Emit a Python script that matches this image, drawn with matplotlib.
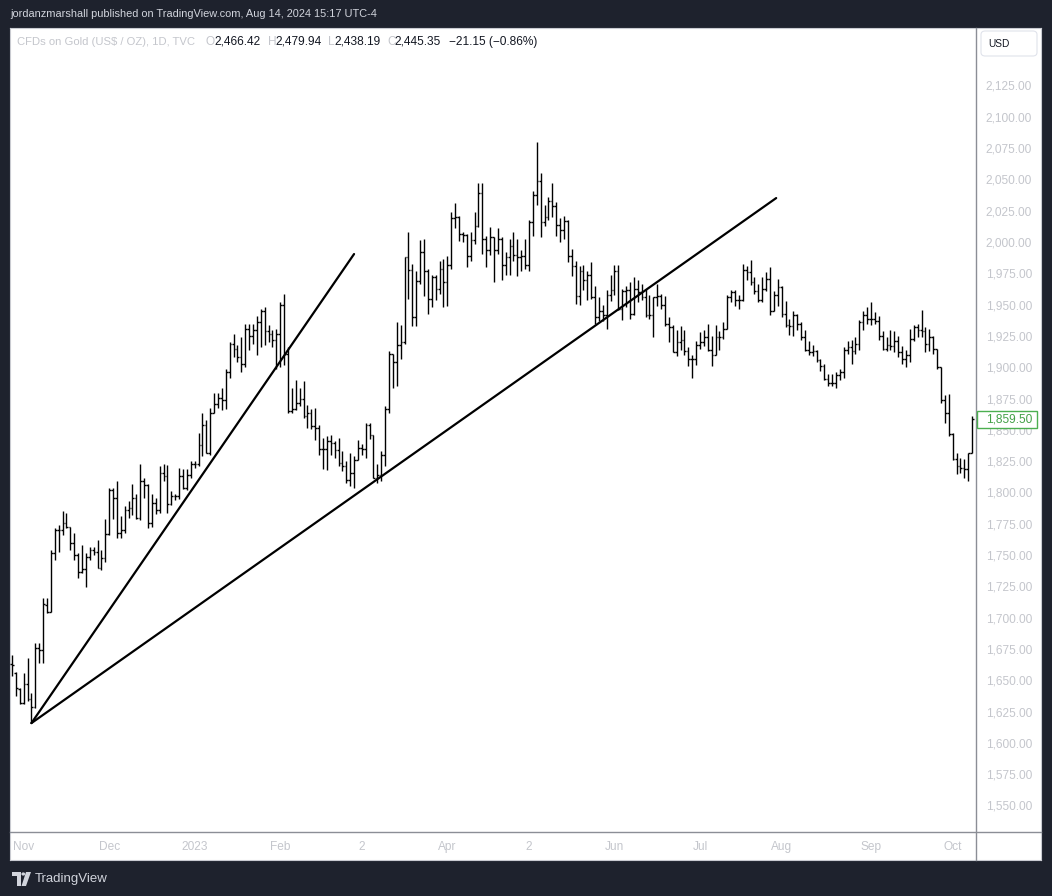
import numpy as np
import pandas as pd
import matplotlib
matplotlib.use("Agg")
import matplotlib.pyplot as plt
from matplotlib.collections import LineCollection
from matplotlib.patches import Rectangle, FancyBboxPatch, Polygon, Circle

# ---------------- data ----------------
dates = pd.bdate_range("2022-10-27", "2023-10-09")

opens = [
    1664, 1657, 1644, 1633, 1648, 1636, 1630, 1677, 1675, 1711,
    1706, 1753, 1771, 1771, 1777, 1774, 1761, 1751, 1738, 1740,
    1750, 1755, 1754, 1741, 1749, 1768, 1803, 1797, 1769, 1771,
    1787, 1789, 1797, 1781, 1810, 1807, 1777, 1793, 1787, 1817,
    1814, 1792, 1798, 1798, 1814, 1805, 1815, 1824, 1824, 1839,
    1855, 1833, 1865, 1872, 1877, 1875, 1897, 1920, 1916, 1909,
    1904, 1932, 1926, 1931, 1937, 1946, 1930, 1928, 1923, 1928,
    1951, 1912, 1866, 1868, 1873, 1876, 1862, 1865, 1854, 1853,
    1836, 1836, 1842, 1841, 1835, 1825, 1822, 1811, 1817, 1827,
    1837, 1836, 1855, 1847, 1813, 1815, 1831, 1868, 1912, 1905,
    1919, 1921, 1989, 1979, 1941, 1970, 1993, 1978, 1956, 1973,
    1964, 1980, 1969, 1983, 2020, 2021, 2008, 2007, 1990, 2003,
    2014, 2040, 2004, 1995, 2005, 1995, 2004, 1983, 1989, 1998,
    1991, 1989, 1990, 1983, 2017, 2039, 2050, 2017, 2021, 2034,
    2030, 2015, 2011, 2018, 1990, 1982, 1958, 1978, 1971, 1975,
    1957, 1941, 1946, 1943, 1959, 1963, 1978, 1948, 1962, 1963,
    1944, 1964, 1961, 1957, 1943, 1943, 1957, 1958, 1951, 1936,
    1933, 1913, 1921, 1923, 1914, 1908, 1908, 1919, 1921, 1925,
    1915, 1911, 1925, 1925, 1932, 1957, 1961, 1955, 1955, 1979,
    1977, 1969, 1962, 1955, 1964, 1972, 1946, 1959, 1965, 1944,
    1935, 1934, 1943, 1936, 1925, 1915, 1913, 1914, 1907, 1902,
    1892, 1889, 1889, 1895, 1897, 1915, 1917, 1914, 1920, 1937,
    1943, 1940, 1940, 1938, 1926, 1916, 1919, 1918, 1922, 1913,
    1908, 1911, 1924, 1933, 1931, 1930, 1920, 1925, 1916, 1901,
    1875, 1865, 1848, 1828, 1822, 1821, 1820, 1833,
]
highs = [
    1671, 1658, 1645, 1657, 1669, 1641, 1681, 1681, 1717, 1717,
    1755, 1773, 1775, 1786, 1785, 1774, 1769, 1753, 1759, 1753,
    1758, 1758, 1763, 1755, 1780, 1805, 1805, 1810, 1782, 1790,
    1794, 1808, 1800, 1824, 1813, 1808, 1800, 1797, 1822, 1824,
    1823, 1802, 1800, 1821, 1820, 1820, 1826, 1826, 1849, 1865,
    1859, 1869, 1881, 1881, 1885, 1900, 1921, 1928, 1919, 1925,
    1936, 1936, 1936, 1942, 1948, 1949, 1935, 1931, 1932, 1953,
    1960, 1917, 1885, 1891, 1885, 1890, 1871, 1868, 1869, 1855,
    1845, 1846, 1847, 1842, 1845, 1834, 1826, 1833, 1830, 1843,
    1840, 1857, 1857, 1847, 1824, 1834, 1870, 1914, 1912, 1937,
    1935, 1989, 2009, 1984, 1978, 2003, 2004, 1980, 1975, 1975,
    1986, 1988, 1990, 2025, 2032, 2022, 2009, 2008, 2009, 2025,
    2048, 2048, 2006, 2013, 2005, 2012, 2005, 1993, 2004, 2009,
    2004, 1995, 2004, 2019, 2042, 2081, 2056, 2031, 2037, 2048,
    2033, 2020, 2022, 2019, 1996, 1986, 1982, 1983, 1978, 1985,
    1966, 1957, 1951, 1963, 1975, 1983, 1983, 1964, 1966, 1969,
    1973, 1971, 1968, 1964, 1959, 1957, 1968, 1960, 1958, 1941,
    1935, 1931, 1934, 1931, 1917, 1911, 1922, 1929, 1931, 1936,
    1926, 1935, 1930, 1937, 1959, 1963, 1963, 1959, 1984, 1982,
    1987, 1973, 1968, 1973, 1977, 1981, 1962, 1972, 1966, 1954,
    1940, 1946, 1944, 1937, 1931, 1922, 1919, 1915, 1908, 1904,
    1896, 1896, 1897, 1900, 1917, 1922, 1923, 1925, 1939, 1946,
    1949, 1953, 1945, 1942, 1930, 1925, 1931, 1930, 1926, 1918,
    1915, 1932, 1935, 1936, 1947, 1933, 1932, 1926, 1916, 1901,
    1879, 1880, 1849, 1833, 1829, 1828, 1833, 1862,
]
lows = [
    1655, 1639, 1632, 1632, 1635, 1617, 1629, 1665, 1665, 1705,
    1706, 1747, 1754, 1767, 1773, 1755, 1747, 1733, 1737, 1726,
    1747, 1751, 1741, 1739, 1746, 1767, 1780, 1765, 1765, 1769,
    1781, 1783, 1780, 1779, 1797, 1773, 1774, 1784, 1785, 1810,
    1785, 1791, 1795, 1796, 1804, 1803, 1813, 1821, 1822, 1830,
    1833, 1831, 1865, 1869, 1867, 1868, 1893, 1909, 1905, 1897,
    1901, 1915, 1920, 1911, 1917, 1919, 1921, 1917, 1900, 1901,
    1903, 1865, 1865, 1867, 1870, 1861, 1853, 1852, 1843, 1831,
    1820, 1819, 1831, 1829, 1822, 1818, 1809, 1806, 1805, 1827,
    1831, 1829, 1844, 1813, 1809, 1810, 1822, 1865, 1885, 1886,
    1908, 1920, 1956, 1934, 1934, 1968, 1958, 1944, 1949, 1955,
    1960, 1949, 1950, 1980, 2012, 2002, 2001, 1981, 1986, 2000,
    2013, 1992, 1981, 1991, 1969, 1992, 1971, 1975, 1975, 1986,
    1974, 1978, 1980, 1978, 2006, 2031, 2005, 2014, 2019, 2021,
    2006, 2001, 2004, 1985, 1974, 1952, 1951, 1963, 1955, 1956,
    1936, 1938, 1938, 1932, 1954, 1959, 1947, 1939, 1949, 1940,
    1943, 1953, 1955, 1941, 1940, 1925, 1950, 1948, 1934, 1921,
    1913, 1910, 1915, 1911, 1902, 1893, 1903, 1916, 1918, 1914,
    1902, 1911, 1915, 1924, 1932, 1953, 1950, 1948, 1954, 1971,
    1967, 1960, 1953, 1953, 1962, 1943, 1946, 1950, 1941, 1933,
    1927, 1926, 1931, 1923, 1914, 1911, 1910, 1905, 1898, 1891,
    1886, 1886, 1885, 1891, 1893, 1912, 1904, 1912, 1915, 1931,
    1936, 1935, 1936, 1923, 1915, 1914, 1915, 1913, 1909, 1904,
    1901, 1905, 1922, 1925, 1925, 1913, 1914, 1912, 1900, 1873,
    1857, 1846, 1827, 1816, 1817, 1813, 1810, 1833,
]
closes = [
    1663, 1645, 1633, 1648, 1636, 1630, 1677, 1675, 1712, 1706,
    1753, 1771, 1771, 1777, 1774, 1761, 1751, 1738, 1740, 1750,
    1755, 1754, 1741, 1749, 1768, 1803, 1797, 1769, 1771, 1787,
    1789, 1797, 1781, 1810, 1807, 1777, 1793, 1787, 1817, 1814,
    1792, 1798, 1798, 1814, 1805, 1815, 1824, 1824, 1839, 1855,
    1833, 1865, 1872, 1877, 1875, 1897, 1920, 1916, 1909, 1904,
    1932, 1926, 1931, 1937, 1946, 1930, 1928, 1923, 1928, 1951,
    1912, 1866, 1868, 1873, 1876, 1862, 1865, 1854, 1853, 1836,
    1836, 1842, 1841, 1835, 1825, 1822, 1811, 1817, 1827, 1837,
    1836, 1855, 1847, 1813, 1815, 1831, 1868, 1912, 1905, 1919,
    1921, 1989, 1979, 1941, 1970, 1993, 1978, 1956, 1973, 1964,
    1980, 1969, 1983, 2020, 2021, 2008, 2007, 1990, 2003, 2014,
    2040, 2004, 1995, 2005, 1995, 2004, 1983, 1989, 1998, 1991,
    1989, 1990, 1983, 2017, 2039, 2050, 2017, 2021, 2034, 2030,
    2015, 2011, 2018, 1990, 1982, 1958, 1978, 1971, 1975, 1957,
    1941, 1946, 1943, 1959, 1963, 1978, 1948, 1962, 1963, 1944,
    1964, 1961, 1957, 1943, 1943, 1957, 1958, 1951, 1936, 1933,
    1913, 1921, 1923, 1914, 1908, 1908, 1919, 1921, 1925, 1915,
    1911, 1925, 1925, 1932, 1957, 1961, 1955, 1955, 1979, 1977,
    1969, 1962, 1955, 1964, 1972, 1946, 1959, 1965, 1944, 1935,
    1934, 1943, 1936, 1925, 1915, 1913, 1914, 1907, 1902, 1892,
    1889, 1889, 1895, 1897, 1915, 1917, 1914, 1920, 1937, 1943,
    1940, 1940, 1938, 1926, 1916, 1919, 1918, 1922, 1913, 1908,
    1911, 1924, 1933, 1931, 1930, 1920, 1925, 1916, 1901, 1875,
    1865, 1848, 1828, 1822, 1821, 1820, 1833, 1859.5,
]

# hand-drawn trend lines: (bar index, price) anchors
trend_start = (5.0, 1617.0)
trend_steep_end = (88.0, 1991.6)
trend_shallow_end = (196.6, 2036.3)

price_ticks = list(range(1550, 2126, 25))
month_labels = ["Nov", "Dec", "2023", "Feb", "2", "Apr", "2", "Jun", "Jul", "Aug", "Sep", "Oct"]
month_dates = ["2022-11-01", "2022-12-01", "2023-01-02", "2023-02-01", "2023-03-02",
               "2023-04-03", "2023-05-02", "2023-06-01", "2023-07-03", "2023-08-01",
               "2023-09-01", "2023-10-02"]
last_price = closes[-1]

assert len(dates) == len(opens) == len(highs) == len(lows) == len(closes)

# ---------------- fonts ----------------
UI_FONT = ["Liberation Sans", "DejaVu Sans"]
PALE = "#c4c6cc"

# ---------------- figure geometry (pixels) ----------------
W, H = 1052, 896
BG = "#1e222d"
fig = plt.figure(figsize=(W / 100, H / 100), dpi=100)
fig.patch.set_facecolor(BG)


def box(x0, y0, x1, y1):
    return [x0 / W, 1 - y1 / H, (x1 - x0) / W, (y1 - y0) / H]


def fxy(px, py):
    return px / W, 1 - py / H


PANEL_L, PANEL_T, PANEL_R, PANEL_B = 10, 28, 1041, 860
PLOT_R, PLOT_B = 976, 832

# price scale: 25 units every 31.304 px, 2125 at y=87
PX_PER_UNIT = 31.304 / 25.0


def price_at(py):
    return 2125 - (py - 87) / PX_PER_UNIT


BAR_X0, BAR_DX = 12.0, 3.887
xlim = ((PANEL_L - BAR_X0) / BAR_DX, (PLOT_R - BAR_X0) / BAR_DX)
ylim = (price_at(PLOT_B), price_at(PANEL_T))

# white panel
panel = fig.add_axes(box(PANEL_L, PANEL_T, PANEL_R, PANEL_B))
panel.set_facecolor("white")
panel.set_xticks([]); panel.set_yticks([])
for s in panel.spines.values():
    s.set_color("#c9cbd1"); s.set_linewidth(0.8)
panel.set_zorder(0)

ax = fig.add_axes(box(PANEL_L, PANEL_T, PLOT_R, PLOT_B))
ax.set_zorder(2)
ax.patch.set_alpha(0)
ax.set_xlim(*xlim)
ax.set_ylim(*ylim)
ax.axis("off")

x = np.arange(len(dates))
t = 0.45
segs = []
for i in range(len(x)):
    segs.append([(x[i], lows[i]), (x[i], highs[i])])
    segs.append([(x[i] - t, opens[i]), (x[i], opens[i])])
    segs.append([(x[i], closes[i]), (x[i] + t, closes[i])])
lc = LineCollection(segs, colors="black", linewidths=1.0, capstyle="butt")
ax.add_collection(lc)

for end in (trend_steep_end, trend_shallow_end):
    ax.plot([trend_start[0], end[0]], [trend_start[1], end[1]],
            color="black", lw=1.6, solid_capstyle="round")

# price axis
pax = fig.add_axes(box(PLOT_R, PANEL_T, PANEL_R, PLOT_B))
pax.set_zorder(3)
pax.patch.set_alpha(0)
pax.set_ylim(*ylim)
pax.set_xlim(0, 1)
pax.axis("off")
for p in price_ticks:
    pax.text(56 / 65, p, f"{p:,.2f}", ha="right", va="center",
             family=UI_FONT, fontsize=8.6, color=PALE)

# last price label
pax.add_patch(Rectangle((1 / 65, last_price - 8.3 / PX_PER_UNIT), 60 / 65, 16.6 / PX_PER_UNIT,
                        facecolor="white", edgecolor="#4caf50", lw=1.0, zorder=5))
pax.text(56 / 65, last_price, f"{last_price:,.2f}", ha="right", va="center", zorder=6,
         family=UI_FONT, fontsize=8.6, color="#43a047")

# USD button
fig.patches.append(FancyBboxPatch(fxy(981, 56), 56 / W, 25 / H,
                                  boxstyle="round,pad=0,rounding_size=0.004",
                                  transform=fig.transFigure, facecolor="white",
                                  edgecolor="#e0e3eb", lw=0.8, zorder=4))
fig.text(*fxy(988, 44), "USD", ha="left", va="center", fontsize=7.3,
         color="#131722", family=UI_FONT, zorder=5)

# separators
fig.add_artist(plt.Line2D([PLOT_R / W, PLOT_R / W], [1 - PANEL_T / H, 1 - PANEL_B / H],
                          color="#8b8e96", lw=1.0, transform=fig.transFigure))
fig.add_artist(plt.Line2D([PANEL_L / W, PANEL_R / W], [1 - PLOT_B / H, 1 - PLOT_B / H],
                          color="#8b8e96", lw=1.0, transform=fig.transFigure))

# time axis labels
date_index = {d.strftime("%Y-%m-%d"): k for k, d in enumerate(dates)}
for lab, d in zip(month_labels, month_dates):
    i = date_index[d]
    ax.text(i, price_at(847), lab, ha="center", va="center", clip_on=False,
            family=UI_FONT, fontsize=8.6, color=PALE)

# header
fig.text(*fxy(10, 14), "jordanzmarshall published on TradingView.com, Aug 14, 2024 15:17 UTC-4",
         ha="left", va="center", fontsize=7.9, color="#d1d4dc", family=UI_FONT)

# legend row
legend_parts = [
    (17, "CFDs on Gold (US$ / OZ), 1D, TVC", PALE, 8.1),
    (206, "O", PALE, 8.6), (214, "2,466.42", "#131722", 8.6),
    (268, "H", PALE, 8.6), (275, "2,479.94", "#131722", 8.6),
    (328, "L", PALE, 8.6), (334, "2,438.19", "#131722", 8.6),
    (387, "C", PALE, 8.6), (394, "2,445.35", "#131722", 8.6),
    (449, "\u221221.15 (\u22120.86%)", "#131722", 8.6),
]
for px, s, c, fs in legend_parts:
    fig.text(*fxy(px, 42), s, ha="left", va="center", fontsize=fs, color=c,
             family=UI_FONT, zorder=6)

# footer logo and wordmark
logo_col = "#d1d4dc"
fig.patches.append(Polygon([fxy(12, 872), fxy(21, 872), fxy(21, 886), fxy(17, 886),
                            fxy(17, 876), fxy(12, 876)], closed=True,
                           transform=fig.transFigure, facecolor=logo_col, edgecolor="none"))
fig.patches.append(Circle(fxy(23.3, 874), 1.9 / W, transform=fig.transFigure,
                          facecolor=logo_col, edgecolor="none"))
fig.patches.append(Polygon([fxy(26, 872), fxy(31, 872), fxy(26, 886), fxy(21.5, 886)], closed=True,
                           transform=fig.transFigure, facecolor=logo_col, edgecolor="none"))
fig.text(*fxy(35, 879), "TradingView", ha="left", va="center", fontsize=9.5,
         color=logo_col, family=UI_FONT)

fig.savefig("out.png", dpi=100, facecolor=BG)
